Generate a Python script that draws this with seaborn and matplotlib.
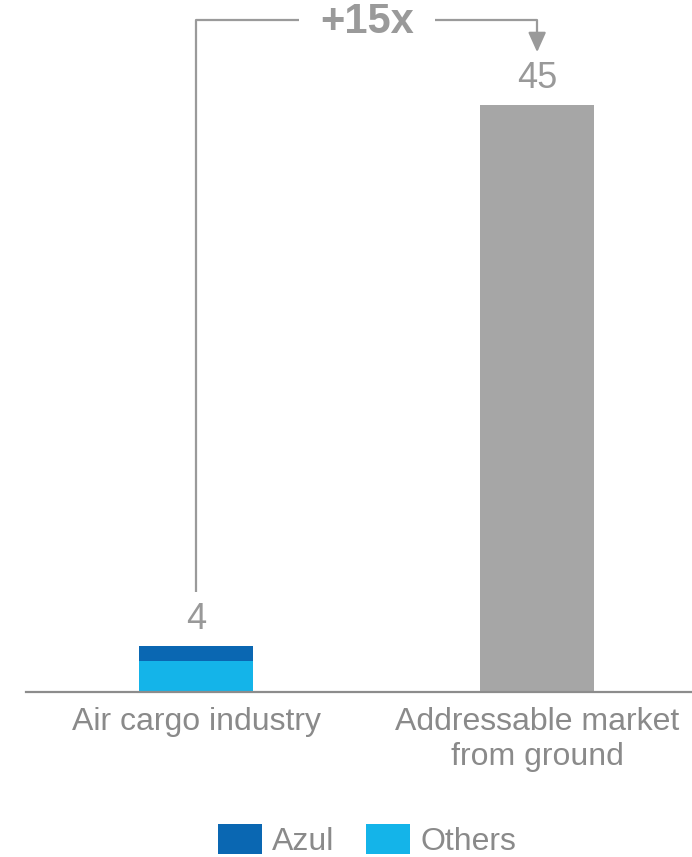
import matplotlib
matplotlib.use("Agg")
import matplotlib.pyplot as plt
from matplotlib.patches import Patch
import seaborn as sns
import pandas as pd

# Market size values
categories = ["Air cargo industry", "Addressable market\nfrom ground"]
azul = [1.15, 0.0]
others = [2.38, 0.0]
ground = [0.0, 45.0]
growth_label = "+15x"
legend_labels = ["Azul", "Others"]

AZUL_C = "#0A67B2"
OTHERS_C = "#14B4E9"
GROUND_C = "#A6A6A6"
TEXT_C = "#8A8A8A"
VALUE_C = "#999999"
LINE_C = "#9A9A9A"

totals = [a + o + g for a, o, g in zip(azul, others, ground)]
df_total = pd.DataFrame({"category": categories, "total": totals})
df_others = pd.DataFrame({"category": categories, "others": others})

sns.set_theme(style="white")
plt.rcParams["font.family"] = ["Liberation Sans", "DejaVu Sans"]

fig = plt.figure(figsize=(6.92, 8.57), dpi=100)
ax = fig.add_axes([26 / 692, 1 - 692 / 857, 1 - 26 / 692, (692 - 13.7) / 857])

# Full-height bars: Azul colour on top of the stacked bar, grey for ground market
sns.barplot(data=df_total, x="category", y="total", hue="category",
            palette=[AZUL_C, GROUND_C], width=0.334, legend=False,
            saturation=1, ax=ax, order=categories, hue_order=categories,
            linewidth=0, edgecolor="none")
# Lower segment: Others
sns.barplot(data=df_others, x="category", y="others", color=OTHERS_C,
            width=0.334, saturation=1, ax=ax, order=categories,
            linewidth=0, edgecolor="none")

ax.set_xlim(-0.5, 1.4545)
ax.set_ylim(0, 52)
ax.set_xlabel("")
ax.set_ylabel("")
ax.set_yticks([])
for s in ["top", "right", "left"]:
    ax.spines[s].set_visible(False)
ax.spines["bottom"].set_color("#8C8C8C")
ax.spines["bottom"].set_linewidth(1.6)
ax.tick_params(axis="x", length=0, pad=11, labelsize=23, labelcolor=TEXT_C)
for lbl in ax.get_xticklabels():
    lbl.set_linespacing(1.2)

# Value labels above bars
for i, t in enumerate(totals):
    ax.text(i, t + 2.0, f"{t:.0f}", ha="center", va="center",
            fontsize=26, color=VALUE_C)

# Growth bracket from the first bar to the second
top = max(totals) + 6.5
mid = 0.5
ax.plot([0, 0, mid - 0.2], [totals[0] + 4.15, top, top],
        color=LINE_C, lw=1.6, clip_on=False, solid_capstyle="butt")
ax.plot([mid + 0.2, 1, 1], [top, top, top - 1.2],
        color=LINE_C, lw=1.6, clip_on=False, solid_capstyle="butt")
ax.annotate("", xy=(1, max(totals) + 4.05), xytext=(1, top - 1.25),
            arrowprops=dict(arrowstyle="-|>,head_width=0.45,head_length=1.0",
                            color=LINE_C, lw=1.6, shrinkA=0, shrinkB=0),
            annotation_clip=False)
ax.text(mid, top - 0.15, growth_label, ha="center", va="center", fontsize=30,
        fontweight="bold", color=LINE_C)

handles = [Patch(facecolor=AZUL_C, edgecolor="none"),
           Patch(facecolor=OTHERS_C, edgecolor="none")]
fig.legend(handles, legend_labels, loc="center", bbox_to_anchor=(0.53, 0.019),
           ncol=2, frameon=False, fontsize=23, handlelength=1.4,
           handleheight=1.03, handletextpad=0.31, columnspacing=0.97,
           labelcolor=TEXT_C, borderpad=0)

fig.savefig("out.png", dpi=100)
